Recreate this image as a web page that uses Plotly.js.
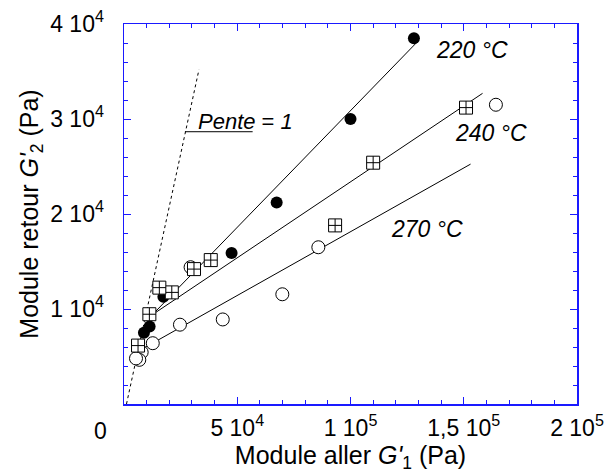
<!DOCTYPE html>
<html>
<head>
<meta charset="utf-8">
<script src="https://cdn.plot.ly/plotly-3.0.1.min.js"></script>
<style>html,body{margin:0;padding:0;background:#fff;}#chart{width:616px;height:476px;}</style>
</head>
<body>
<div id="chart"></div>
<script>
// Series (G'1, G'2 in Pa)
var g1_220 = [128000, 100000, 67400, 47500, 17400, 11300, 8800];
var g2_220 = [38500, 30000, 21200, 15900, 11300, 8150, 7500];

var g1_240 = [151000, 110000, 93200, 38300, 30900, 21100, 15600, 11200, 6200];
var g2_240 = [31200, 25400, 18800, 15150, 14200, 11750, 12250, 9450, 6150];

var g1_270 = [164200, 85800, 69900, 43600, 24700, 29400, 12700, 7800, 6750, 5300];
var g2_270 = [31500, 16500, 11550, 8900, 8350, 14400, 6400, 5450, 4650, 4800];

// Fitted lines (end points)
var fit220_x = [9700, 129000], fit220_y = [8700, 38000];
var fit240_x = [9700, 158300], fit240_y = [8950, 32700];
var fit270_x = [4400, 153000], fit270_y = [5300, 25250];
// "Pente = 1" reference line
var slope1_x = [1100, 33100], slope1_y = [0, 35200];

// Tick labels
var xTickVals = [50000, 100000, 150000, 200000];
var xTickText = ['5 10<sup>4</sup>', '1 10<sup>5</sup>', '1,5 10<sup>5</sup>', '2 10<sup>5</sup>'];
var yTickVals = [10000, 20000, 30000, 40000];
var yTickText = ['1 10<sup>4</sup>', '2 10<sup>4</sup>', '3 10<sup>4</sup>', '4 10<sup>4</sup>'];

var FONT = 'Liberation Sans, Arial, sans-serif';
var lineStyle = {color: '#000', width: 1};

var traces = [
  {x: slope1_x, y: slope1_y, mode: 'lines', line: {color: '#000', width: 1, dash: '3px,3px'}, hoverinfo: 'skip'},
  {x: fit220_x, y: fit220_y, mode: 'lines', line: lineStyle},
  {x: fit240_x, y: fit240_y, mode: 'lines', line: lineStyle},
  {x: fit270_x, y: fit270_y, mode: 'lines', line: lineStyle},
  {x: g1_220, y: g2_220, mode: 'markers', name: '220 °C',
   marker: {symbol: 'circle', size: 12, color: '#000', line: {color: '#000', width: 0}}},
  {x: g1_270, y: g2_270, mode: 'markers', name: '270 °C',
   marker: {symbol: 'circle', size: 13, color: '#fff', line: {color: '#000', width: 1}}},
  {x: g1_240, y: g2_240, mode: 'markers', name: '240 °C',
   marker: {symbol: 'square-cross', size: 13, color: '#fff', line: {color: '#000', width: 1}}}
];

var axisCommon = {
  showgrid: false, zeroline: false,
  showline: true, linecolor: '#1a1aff', linewidth: 1.5, mirror: 'allticks',
  ticks: 'inside', ticklen: 7, tickwidth: 1, tickcolor: '#1a1aff',
  tickfont: {family: FONT, size: 23, color: '#000'},
  tickmode: 'array'
};

var layout = {
  width: 616, height: 476,
  margin: {l: 124, r: 39, t: 24, b: 72},
  paper_bgcolor: '#fff', plot_bgcolor: '#fff',
  showlegend: false,
  font: {family: FONT, color: '#000'},
  xaxis: Object.assign({}, axisCommon, {
    range: [0, 200000], tickvals: xTickVals, ticktext: xTickText,
    ticklabelstandoff: 3,
    minor: {tickmode: 'linear', tick0: 0, dtick: 10000, ticks: 'inside', ticklen: 4, tickcolor: '#1a1aff', tickwidth: 1},
    title: {text: "Module aller <i>G'</i><sub>1</sub> (Pa)", font: {family: FONT, size: 25, color: '#000'}, standoff: 0}
  }),
  yaxis: Object.assign({}, axisCommon, {
    range: [0, 40000], tickvals: yTickVals, ticktext: yTickText,
    ticklabelstandoff: 14,
    minor: {tickmode: 'linear', tick0: 0, dtick: 2000, ticks: 'inside', ticklen: 4, tickcolor: '#1a1aff', tickwidth: 1},
    title: {text: "Module retour <i>G'</i><sub>2</sub> (Pa)", font: {family: FONT, size: 25, color: '#000'}, standoff: 4}
  }),
  shapes: [
    {type: 'line', xref: 'x', yref: 'y', x0: 26900, x1: 56800, y0: 28660, y1: 28660, line: {color: '#000', width: 1}}
  ],
  annotations: [
    {xref: 'paper', yref: 'paper', x: -0.0508, y: -0.07, text: '0', showarrow: false, xanchor: 'center', yanchor: 'middle', font: {family: FONT, size: 23}},
    {xref: 'x', yref: 'y', x: 153600, y: 37260, text: '<i>220 °C</i>', showarrow: false, xanchor: 'center', yanchor: 'middle', font: {family: FONT, size: 23}},
    {xref: 'x', yref: 'y', x: 162000, y: 28530, text: '<i>240 °C</i>', showarrow: false, xanchor: 'center', yanchor: 'middle', font: {family: FONT, size: 23}},
    {xref: 'x', yref: 'y', x: 133800, y: 18420, text: '<i>270 °C</i>', showarrow: false, xanchor: 'center', yanchor: 'middle', font: {family: FONT, size: 23}},
    {xref: 'x', yref: 'y', x: 32000, y: 29790, text: '<i>Pente</i> = <i>1</i>', showarrow: false, xanchor: 'left', yanchor: 'middle', font: {family: FONT, size: 22}}
  ]
};

Plotly.newPlot('chart', traces, layout, {displayModeBar: false, staticPlot: true});
</script>
</body>
</html>
